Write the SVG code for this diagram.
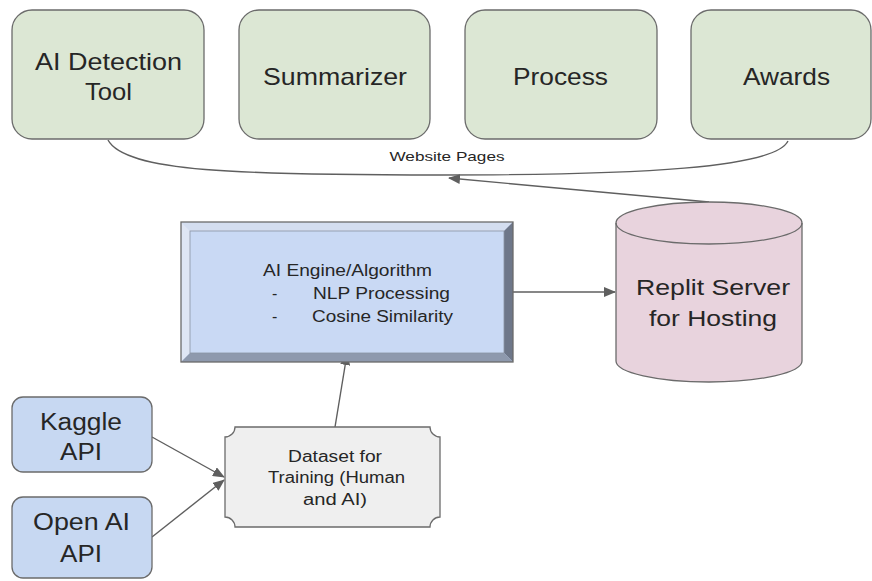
<svg xmlns="http://www.w3.org/2000/svg" width="872" height="581" viewBox="0 0 872 581">
<defs>
<marker id="ah" markerUnits="userSpaceOnUse" markerWidth="12" markerHeight="10" viewBox="0 0 12 10" refX="11" refY="5" orient="auto">
<path d="M0,0 L12,5 L0,10 Z" fill="#5f5f5f"/>
</marker>
<style>
.t{font-family:"Liberation Sans",Arial,sans-serif;fill:#262626;}
.page{fill:#dce7d4;stroke:#6b6b6b;stroke-width:1.3;}
.api{fill:#c7d8f2;stroke:#6b6b6b;stroke-width:1.3;}
.conn{fill:none;stroke:#5f5f5f;stroke-width:1.4;}
</style>
</defs>
<rect width="872" height="581" fill="#ffffff"/>

<g id="connectors">
<path class="conn" d="M108,140 C125,172 240,175 440,175 C640,175 775,168 788,141"/>
<path class="conn" d="M709,202 L449,178" marker-end="url(#ah)"/>
<path class="conn" d="M513,292 L615,292" marker-end="url(#ah)"/>
<path class="conn" d="M335,427 L347,354" marker-end="url(#ah)"/>
<path class="conn" d="M152,437 L224,477" marker-end="url(#ah)"/>
<path class="conn" d="M152,537 L224,480" marker-end="url(#ah)"/>
<text class="t" x="447" y="161" font-size="13" text-anchor="middle" textLength="115" lengthAdjust="spacingAndGlyphs">Website Pages</text>
</g>

<g id="ai-detection-tool">
<rect class="page" x="12" y="10" width="192" height="129" rx="20"/>
<text class="t" x="108.5" y="70" font-size="24" text-anchor="middle" textLength="147" lengthAdjust="spacingAndGlyphs">AI Detection</text>
<text class="t" x="108.5" y="100" font-size="24" text-anchor="middle" textLength="47" lengthAdjust="spacingAndGlyphs">Tool</text>
</g>
<g id="summarizer">
<rect class="page" x="239" y="10" width="191" height="129" rx="20"/>
<text class="t" x="335" y="85" font-size="24" text-anchor="middle" textLength="144" lengthAdjust="spacingAndGlyphs">Summarizer</text>
</g>
<g id="process">
<rect class="page" x="465" y="10" width="192" height="129" rx="20"/>
<text class="t" x="560.5" y="85" font-size="24" text-anchor="middle" textLength="95" lengthAdjust="spacingAndGlyphs">Process</text>
</g>
<g id="awards">
<rect class="page" x="691" y="10" width="180" height="129" rx="20"/>
<text class="t" x="786.5" y="85" font-size="24" text-anchor="middle" textLength="87" lengthAdjust="spacingAndGlyphs">Awards</text>
</g>

<g id="ai-engine">
<rect x="181" y="222" width="332" height="140" fill="#c9d9f4"/>
<polygon points="181,222 513,222 504,231 190,231" fill="#d4def0"/>
<polygon points="181,222 190,231 190,353 181,362" fill="#dfe6f4"/>
<polygon points="513,222 513,362 504,353 504,231" fill="#6e7789"/>
<polygon points="181,362 513,362 504,353 190,353" fill="#8e99ad"/>
<rect x="181" y="222" width="332" height="140" fill="none" stroke="#6b6b6b" stroke-width="1.3"/>
<rect x="190" y="231" width="314" height="122" fill="none" stroke="#8b93a3" stroke-width="0.8"/>
<text class="t" x="263" y="276" font-size="16" textLength="169" lengthAdjust="spacingAndGlyphs">AI Engine/Algorithm</text>
<text class="t" x="272" y="299" font-size="16">-</text>
<text class="t" x="313" y="299" font-size="16" textLength="137" lengthAdjust="spacingAndGlyphs">NLP Processing</text>
<text class="t" x="272" y="322" font-size="16">-</text>
<text class="t" x="312" y="322" font-size="16" textLength="141" lengthAdjust="spacingAndGlyphs">Cosine Similarity</text>
</g>

<g id="replit-server">
<path d="M616,223 L616,361 A93,21 0 0 0 802,361 L802,223 A93,21 0 0 0 616,223 Z" fill="#e8d3dd" stroke="#6b6b6b" stroke-width="1.3"/>
<path d="M616,223 A93,21 0 0 0 802,223" fill="none" stroke="#6b6b6b" stroke-width="1.3"/>
<text class="t" x="713" y="295" font-size="22" text-anchor="middle" textLength="154" lengthAdjust="spacingAndGlyphs">Replit Server</text>
<text class="t" x="713" y="326" font-size="22" text-anchor="middle" textLength="128" lengthAdjust="spacingAndGlyphs">for Hosting</text>
</g>

<g id="kaggle-api">
<rect class="api" x="12" y="397" width="140" height="75" rx="11"/>
<text class="t" x="81" y="430" font-size="23" text-anchor="middle" textLength="82" lengthAdjust="spacingAndGlyphs">Kaggle</text>
<text class="t" x="81" y="460" font-size="23" text-anchor="middle" textLength="42" lengthAdjust="spacingAndGlyphs">API</text>
</g>
<g id="open-ai-api">
<rect class="api" x="12" y="497" width="140" height="81" rx="11"/>
<text class="t" x="81.5" y="530" font-size="23" text-anchor="middle" textLength="97" lengthAdjust="spacingAndGlyphs">Open AI</text>
<text class="t" x="81" y="562" font-size="23" text-anchor="middle" textLength="42" lengthAdjust="spacingAndGlyphs">API</text>
</g>

<g id="dataset">
<path d="M235,427 H430 A10,10 0 0 0 440,437 V517 A10,10 0 0 0 430,527 H235 A10,10 0 0 0 225,517 V437 A10,10 0 0 0 235,427 Z" fill="#efefef" stroke="#6b6b6b" stroke-width="1.3"/>
<text class="t" x="335" y="462" font-size="16" text-anchor="middle" textLength="94" lengthAdjust="spacingAndGlyphs">Dataset for</text>
<text class="t" x="336.5" y="483" font-size="16" text-anchor="middle" textLength="137" lengthAdjust="spacingAndGlyphs">Training (Human</text>
<text class="t" x="335" y="505" font-size="16" text-anchor="middle" textLength="64" lengthAdjust="spacingAndGlyphs">and AI)</text>
</g>
</svg>
